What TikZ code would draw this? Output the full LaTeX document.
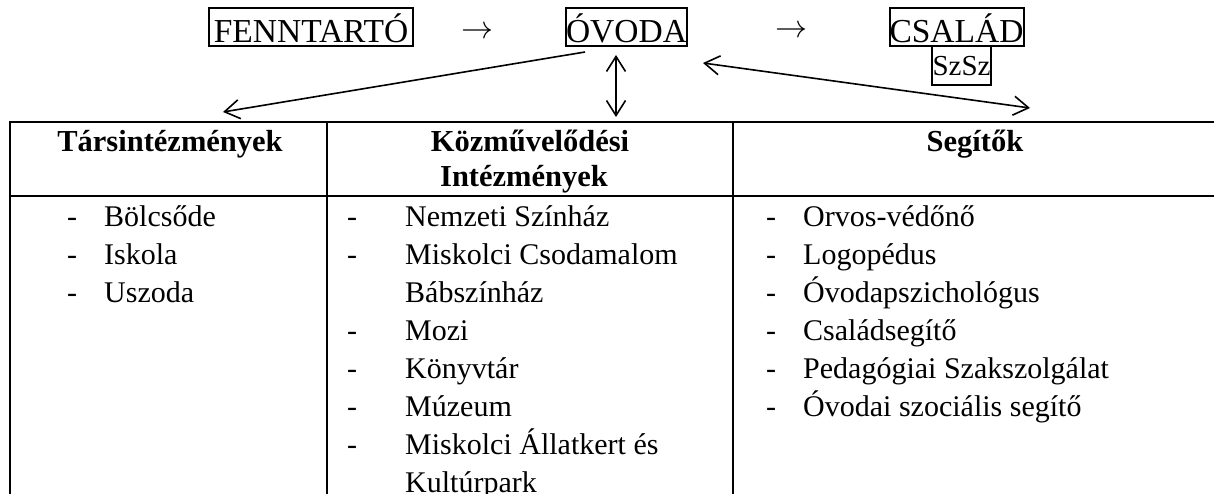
\documentclass[tikz,border=0pt]{standalone}
\usepackage{fontspec}
\setmainfont{Liberation Serif}
\usetikzlibrary{arrows.meta}
\begin{document}
\begin{tikzpicture}[x=1pt,y=-1pt,
  lbl/.style={draw, line width=2pt, inner sep=0pt, font=\fontsize{33.5}{33.5}\selectfont, text height=33pt, text depth=1pt, minimum height=38pt},
  sym/.style={inner sep=0pt},
  hd/.style={anchor=base, inner sep=0pt, font=\fontsize{30.5}{36}\selectfont\bfseries},
  itm/.style={anchor=base west, inner sep=0pt, font=\fontsize{30}{36}\selectfont},
  tline/.style={line width=2pt},
  arr/.style={line width=1.6pt, arrows={-Straight Barb[length=15pt,width=19pt]}},
  darr/.style={line width=1.6pt, arrows={Straight Barb[length=15pt,width=19pt]-Straight Barb[length=15pt,width=19pt]}},
]
\useasboundingbox (0,0) rectangle (1214,494);

% top row
\node[lbl, minimum width=204pt] (fen) at (311,27) {FENNTARTÓ};
\node[lbl, minimum width=121pt] (ov) at (626.5,27) {ÓVODA};
\node[lbl, minimum width=123pt] (csa) at (956.5,27) {CSALÁD};
\node[lbl, minimum width=59pt, minimum height=39pt, text height=24pt, text depth=4pt, font=\fontsize{29}{29}\selectfont] (szsz) at (961.5,66) {SzSz};
\node[sym] (ar1) at (477.5,33) {\scalebox{3.2}{$\rightarrow$}};
\node[sym] (ar2) at (791,32) {\scalebox{3.2}{$\rightarrow$}};

% connectors
\coordinate (lend) at (223,112);
\coordinate (vtop) at (616,55);
\coordinate (vbot) at (616,117);
\coordinate (rtop) at (703,63);
\coordinate (rend) at (1030,108);
\draw[arr] ([shift={(20,5)}]ov.south west) -- (lend);
\draw[darr] (vtop) -- (vbot);
\draw[darr] (rtop) -- (rend);

% table
\draw[tline] (1214,122) -- (10,122) -- (10,494);
\draw[tline] (10,196) -- (1214,196);
\draw[tline] (327,122) -- (327,494);
\draw[tline] (733,122) -- (733,494);

% headers
\node[hd] (h1) at (170,152) {Társintézmények};
\node[hd] (h2a) at (530,152) {Közművelődési};
\node[hd] (h2b) at (524,187) {Intézmények};
\node[hd] (h3) at (975,152) {Segítők};

% column 1
\foreach \t [count=\i from 0] in {Bölcsőde, Iskola, Uszoda} {
  \node[itm] (a\i) at (104,{226+38.1*\i}) {\t};
  \node[itm] (ad\i) at (67,{226+38.1*\i}) {-};
}

% column 2
\foreach \t [count=\i from 0] in {Nemzeti Színház, Miskolci Csodamalom, Bábszínház, Mozi, Könyvtár, Múzeum, Miskolci Állatkert és, Kultúrpark} {
  \node[itm] (b\i) at (405,{226+38.1*\i}) {\t};
}
\foreach \i in {0,1,3,4,5,6} {
  \node[itm] (bd\i) at (347,{226+38.1*\i}) {-};
}

% column 3
\foreach \t [count=\i from 0] in {Orvos-védőnő, Logopédus, Óvodapszichológus, Családsegítő, Pedagógiai Szakszolgálat, Óvodai szociális segítő} {
  \node[itm] (c\i) at (803,{226+38.1*\i}) {\t};
  \node[itm] (cd\i) at (766,{226+38.1*\i}) {-};
}
\end{tikzpicture}
\end{document}
